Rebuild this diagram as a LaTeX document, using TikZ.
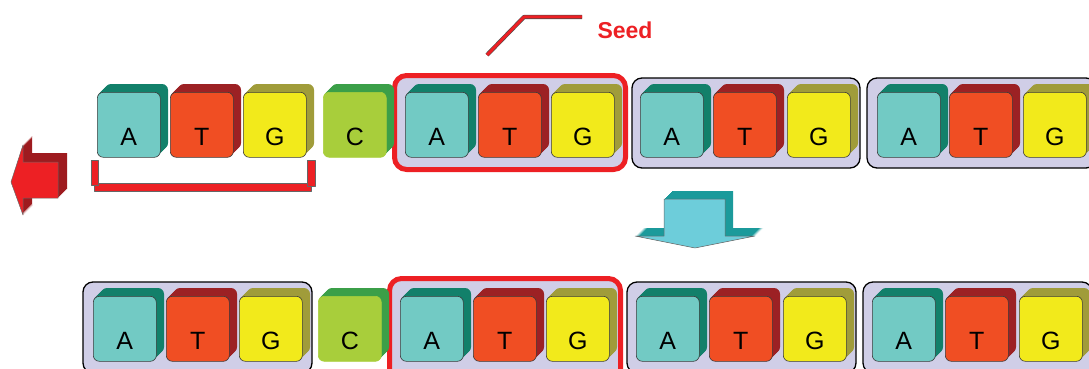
\documentclass[tikz,border=0pt]{standalone}
\usepackage{fontspec}
\setmainfont{Liberation Sans}
\definecolor{Afr}{HTML}{72CAC4}
\definecolor{Abk}{HTML}{12806A}
\definecolor{Abd}{HTML}{3A3A3A}
\definecolor{Tfr}{HTML}{F04E23}
\definecolor{Tbk}{HTML}{9C2124}
\definecolor{Tbd}{HTML}{3A3A3A}
\definecolor{Gfr}{HTML}{F2EA1B}
\definecolor{Gbk}{HTML}{A09C3A}
\definecolor{Gbd}{HTML}{3A3A3A}
\definecolor{Cfr}{HTML}{A8CE3B}
\definecolor{Cbk}{HTML}{3B9F48}
\definecolor{Cbd}{HTML}{A8CE3B}
\definecolor{lav}{HTML}{D0CEE7}
\definecolor{seedred}{HTML}{ED2024}
\definecolor{darkred}{HTML}{9E1B1F}
\definecolor{downfr}{HTML}{6DCDDA}
\definecolor{downbk}{HTML}{1B9A9B}
\begin{document}
\begin{tikzpicture}[x=1pt,y=-1pt,line join=round,
  nuc/.style={rounded corners=6pt,minimum width=63pt,minimum height=65pt,inner sep=0pt,
    anchor=north west,line width=0.6pt,text height=42pt,text depth=0pt,
    font=\fontsize{25}{25}\selectfont},
  grp/.style={draw=black,line width=1.3pt,fill=lav,rounded corners=10pt},
  seedbox/.style={draw=seedred,line width=5pt,fill=lav,rounded corners=12pt},
  bracket/.style={fill=seedred,draw=black!60,line width=0.5pt}]
\useasboundingbox (0,0) rectangle (1089,369);
%
% frames
\draw[seedbox] (394.5,75.5) rectangle (625.5,169.5);
\draw[grp] (632,78) rectangle (860,168);
\draw[grp] (867,78) rectangle (1096,168);
\draw[grp] (83,282) rectangle (312,373);
\draw[seedbox] (389.5,278.5) rectangle (620.5,385);
\draw[grp] (627,282) rectangle (856,373);
\draw[grp] (863,282) rectangle (1092,373);
%
% top row
\foreach \nm/\px/\base in {t1/97/A,t2/170/T,t3/243/G,t4/323/C,t5/405/A,t6/478/T,t7/551/G,
  t8/640/A,t9/713/T,t10/787/G,t11/877/A,t12/949/T,t13/1023/G}{
  \foreach \d in {1,...,8}
    \fill[fill=\base bk,rounded corners=6pt] (\px+\d,92-\d) rectangle ++(63,65);
  \node[nuc,fill=\base fr,draw=\base bd] (\nm) at (\px,92) {\base};
}
% bottom row
\foreach \nm/\px/\base in {b1/93/A,b2/166/T,b3/239/G,b4/318/C,b5/400/A,b6/473/T,b7/546/G,
  b8/636/A,b9/709/T,b10/783/G,b11/872/A,b12/945/T,b13/1019/G}{
  \foreach \d in {1,...,8}
    \fill[fill=\base bk,rounded corners=6pt] (\px+\d,296-\d) rectangle ++(63,65);
  \node[nuc,fill=\base fr,draw=\base bd] (\nm) at (\px,296) {\base};
}
%
% bracket under the first triplet
\draw[bracket] (94,183) rectangle (311,191);
\draw[bracket] (91,160) rectangle (98,185);
\draw[bracket] (307,160) rectangle (315,186);
%
% red arrow to the left
\foreach \d in {1,...,9}
  \fill[darkred,shift={(\d,-\d)}] (11,182)--(23,145)--(23,162)--(58,162)--(58,198)--(23,198)--(23,215)--cycle;
\draw[fill=seedred,draw=black!60,line width=0.5pt] (11,182)--(23,145)--(23,162)--(58,162)--(58,198)--(23,198)--(23,215)--cycle;
%
% down arrow
\foreach \d in {1,...,8}
  \fill[downbk,shift={(\d,-\d)}] (664,199)--(725,199)--(725,236)--(755,236)--(695,248)--(635,236)--(664,236)--cycle;
\draw[fill=downfr,draw=black!60,line width=0.5pt] (664,199)--(725,199)--(725,236)--(755,236)--(695,248)--(635,236)--(664,236)--cycle;
%
% seed label
\coordinate (s1) at (487,55);
\coordinate (s2) at (524,17);
\coordinate (s3) at (582,17);
\draw[draw=black!70,double=seedred,double distance=3pt,line width=0.6pt] (s1)--(s2)--(s3);
\node[font=\bfseries\fontsize{23}{23}\selectfont,text=seedred] (seedlbl) at (625,30) {Seed};
\end{tikzpicture}
\end{document}
